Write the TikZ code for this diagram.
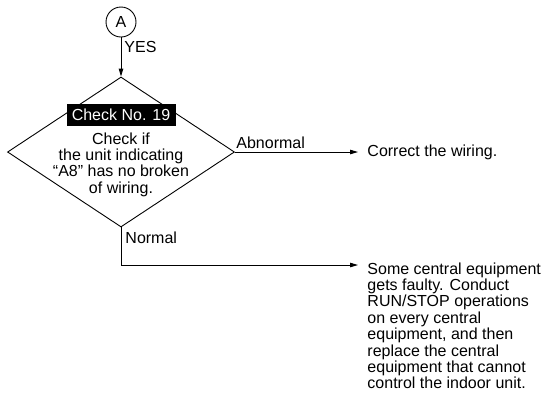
\documentclass[tikz,border=0pt]{standalone}
\usepackage{fontspec}
\setsansfont{Liberation Sans}
\usetikzlibrary{arrows.meta, shapes.geometric}
\tikzset{
  every picture/.style={font=\sffamily\fontsize{16bp}{16.4bp}\selectfont, line width=0.9bp},
  decision/.style={draw, diamond, minimum width=227bp, minimum height=150bp, inner sep=0pt},
  connector/.style={draw, circle, minimum size=30bp, inner sep=0pt},
  tag/.style={fill=black, text=white, minimum width=109bp, minimum height=22bp, inner sep=0pt},
  arrow/.style={-{Triangle[length=8bp, width=4.5bp]}},
  note/.style={align=left, inner xsep=9bp, inner ysep=0pt},
}

\begin{document}
\begin{tikzpicture}[x=1bp, y=-1bp]
  \useasboundingbox (0,0) rectangle (544,401);
  % check 19
  \node[connector] (a) at (121,22) {A};
  \node[decision] (chk) at (121,152) {};
  \node[tag] (no) at (121,115) {Check No. 19};
  \node[anchor=north, align=center, inner sep=0pt] (q) at (121,132) {Check if\\the unit indicating\\“A8” has no broken\\of wiring.};
  % results
  \node[note, anchor=west] (fix) at (358,152) {Correct the wiring.};
  \coordinate (actin) at (358,265);
  \node[note, anchor=north west] (act) at (358,262) {Some central equipment\\gets faulty. Conduct\\RUN/STOP operations\\on every central\\equipment, and then\\replace the central\\equipment that cannot\\control the indoor unit.};
  \draw[arrow] (a) -- node[right, pos=0.25, inner xsep=3bp] (yes) {YES} (chk.north);
  \draw[arrow] (chk.east) -- node[anchor=south west, pos=0, inner xsep=1bp, inner ysep=3bp] (abn) {Abnormal} (fix.west);
  \draw[arrow] (chk.south) |- node[anchor=north west, pos=0, inner sep=4bp] (nrm) {Normal} (actin);
\end{tikzpicture}
\end{document}
